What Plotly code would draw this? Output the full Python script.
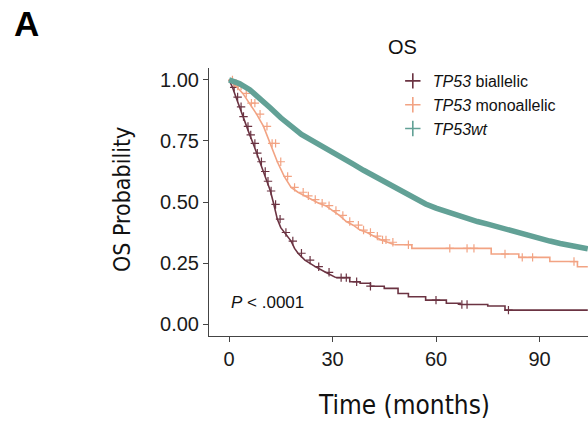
import numpy as np
import plotly.graph_objects as go

# ---- data ----
bi_t = [0, 1, 2, 3, 4, 5, 6, 7, 8, 9, 10, 11, 12, 13, 14, 15, 16, 17, 18, 19, 20, 22, 25, 28, 31, 35,
        38, 41, 45, 49, 52, 57, 63, 67, 75, 80, 104]
bi_s = [1.0, 0.97, 0.93, 0.89, 0.85, 0.81, 0.775, 0.74, 0.70, 0.665, 0.625, 0.585, 0.545, 0.49, 0.43, 0.395,
        0.375, 0.36, 0.34, 0.31, 0.29, 0.262, 0.235, 0.212, 0.19, 0.173, 0.167, 0.155, 0.146, 0.125, 0.112,
        0.098, 0.085, 0.08, 0.074, 0.057, 0.057]
bi_cens = [1.5, 2.5, 3.5, 4.2, 5.5, 6.3, 7.5, 8.2, 9.4, 10.5, 11.3, 12.2, 13.5, 14.8, 16.5, 18.5, 21, 23.5,
           26, 29, 32.5, 34, 37, 41, 60, 67.5, 69, 81]

mono_t = [0, 2, 4, 6, 8, 10, 12, 14, 16, 18, 20, 22, 24, 26, 28, 30, 32, 34, 36, 38, 40, 42, 44, 46, 48,
          53, 76, 84, 93, 101, 104]
mono_s = [1.0, 0.975, 0.945, 0.905, 0.86, 0.81, 0.74, 0.665, 0.605, 0.56, 0.54, 0.525, 0.51, 0.495, 0.485,
          0.465, 0.445, 0.42, 0.405, 0.385, 0.375, 0.36, 0.345, 0.335, 0.325, 0.31, 0.287, 0.273, 0.256,
          0.235, 0.235]
mono_cens = [1, 2.5, 3.5, 5, 6.5, 7.5, 9, 11, 12.5, 13.5, 15, 17, 19, 21.5, 23, 25, 27, 29, 31, 33, 35,
             37.5, 39, 41, 43, 44.5, 45.5, 47.5, 52, 64, 69, 71, 80, 85, 88, 100]

wt_t = [0, 3, 6, 9, 12, 15, 18, 21, 24, 27, 30, 33, 36, 39, 42, 45, 48, 51, 54, 57, 60, 63, 66, 69, 72,
        75, 78, 81, 84, 87, 90, 93, 96, 99, 102, 104]
wt_s = [1.0, 0.985, 0.96, 0.925, 0.885, 0.845, 0.81, 0.777, 0.752, 0.729, 0.705, 0.68, 0.655, 0.63, 0.606,
        0.583, 0.558, 0.534, 0.512, 0.492, 0.475, 0.46, 0.445, 0.431, 0.42, 0.409, 0.397, 0.384, 0.371, 0.36,
        0.35, 0.34, 0.33, 0.321, 0.313, 0.308]

names = ["<i>TP53</i> biallelic", "<i>TP53</i> monoallelic", "<i>TP53wt</i>"]
colors = ["#6B3342", "#F2A383", "#62A196"]
x_ticks = [0, 30, 60, 90]
y_ticks = [0, 0.25, 0.5, 0.75, 1.0]
y_ticklabels = ["0.00", "0.25", "0.50", "0.75", "1.00"]


def step_at(t, s, x):
    t = np.asarray(t)
    s = np.asarray(s)
    idx = np.searchsorted(t, np.asarray(x), side="right") - 1
    return s[idx]


fig = go.Figure()

# dense early part (many tiny steps) drawn smooth, sparse tail drawn as steps
series = [(bi_t, bi_s, bi_cens, 1.6, 31), (mono_t, mono_s, mono_cens, 1.6, 48), (wt_t, wt_s, None, 5.5, 200)]
for (t, s, cens, w, split), c in zip(series, colors):
    t = np.asarray(t, float)
    s = np.asarray(s, float)
    early = t <= split
    late = t >= split
    fig.add_trace(go.Scatter(x=t[early], y=s[early], mode="lines", line=dict(color=c, width=w, shape="linear"),
                             showlegend=False, hoverinfo="skip"))
    if late.sum() > 1:
        fig.add_trace(go.Scatter(x=t[late], y=s[late], mode="lines", line=dict(color=c, width=w, shape="hv"),
                                 showlegend=False, hoverinfo="skip"))
    if cens:
        fig.add_trace(go.Scatter(x=cens, y=step_at(t, s, cens), mode="markers",
                                 marker=dict(symbol="cross-thin", size=6, line=dict(color=c, width=1.2)),
                                 showlegend=False, hoverinfo="skip"))

for n, c in zip(names, colors):
    fig.add_trace(go.Scatter(x=[None], y=[None], mode="markers", name=n,
                             marker=dict(symbol="cross-thin", size=11, line=dict(color=c, width=1.6))))

axis_font = dict(family="Liberation Sans, Arial, sans-serif", size=20, color="#1a1a1a")
title_font = dict(family="DejaVu Sans Condensed, Liberation Sans Narrow, Roboto, sans-serif", size=26,
                  color="#111111")

fig.update_layout(
    width=588, height=425,
    margin=dict(l=209, r=0, t=68, b=89, autoexpand=False),
    plot_bgcolor="white", paper_bgcolor="white",
    xaxis=dict(range=[-5.8, 104.06], tickvals=x_ticks, ticks="outside", ticklen=5, tickcolor="#444",
               showline=True, linecolor="#444", linewidth=1, showgrid=False, zeroline=False,
               tickfont=axis_font, automargin=False),
    yaxis=dict(range=[-0.049, 1.049], tickvals=y_ticks, ticktext=y_ticklabels, ticks="outside",
               ticklen=5, tickcolor="#444", showline=True, linecolor="#444", linewidth=1,
               showgrid=False, zeroline=False, tickfont=axis_font, automargin=False),
    legend=dict(x=0.485, y=1.015, xanchor="left", yanchor="top", bgcolor="rgba(0,0,0,0)",
                font=dict(family="Liberation Sans, Arial, sans-serif", size=16, color="#111"),
                itemwidth=30, tracegroupgap=0),
    showlegend=True,
)

fig.add_annotation(text="OS", xref="paper", yref="paper", x=(386 - 209) / 379, y=(336 - 47) / 268,
                   xanchor="left", yanchor="middle", showarrow=False,
                   font=dict(family="Liberation Sans, Arial, sans-serif", size=20, color="#111"))
fig.add_annotation(text="Time (months)", xref="paper", yref="paper", x=(404 - 209) / 379,
                   y=-(405 - 336) / 268, xanchor="center", yanchor="middle", showarrow=False,
                   font=title_font)
fig.add_annotation(text="OS Probability", xref="paper", yref="paper", x=-(209 - 122) / 379,
                   y=(336 - 200) / 268, xanchor="center", yanchor="middle", textangle=-90,
                   showarrow=False, font=dict(title_font, size=23))
fig.add_annotation(text="<i>P</i> < .0001", x=0, y=0.09, xref="x", yref="y", xanchor="left",
                   yanchor="middle", showarrow=False,
                   font=dict(family="Liberation Sans, Arial, sans-serif", size=17, color="#111"))
fig.add_annotation(text="<b>A</b>", xref="paper", yref="paper", x=-(209 - 12) / 379,
                   y=(336 - 2) / 268, xanchor="left", yanchor="top", showarrow=False,
                   font=dict(family="Liberation Sans, Arial, sans-serif", size=35, color="#000"))

fig.write_html("out.html", config={"displayModeBar": False},
               post_script="document.body.style.margin='0';document.body.style.padding='0';")
